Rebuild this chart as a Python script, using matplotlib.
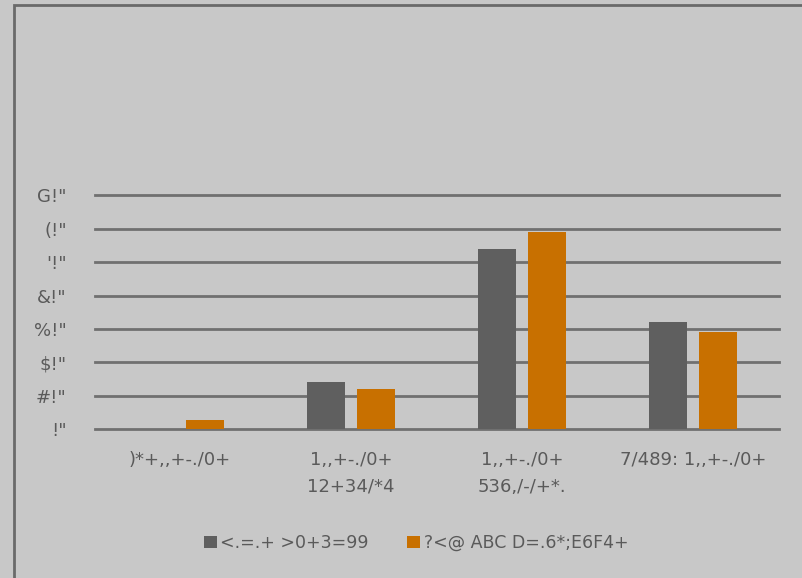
import matplotlib.pyplot as plt
import numpy as np

## Data
categories = [')*+,,+-./0+', '1,,+-./0+\n12+34/*4', '1,,+-./0+\n536,/-/+*.', '7/489: 1,,+-./0+']
series_names = ['<.=.+ >0+3=99', '?<@ ABC D=.6*;E6F4+']
dark_values = [0, 14.1, 54, 32]
orange_values = [2.8, 12, 59.2, 29]
tick_values = [0, 10, 20, 30, 40, 50, 60, 70]
tick_labels = ['!"', '#!"', '$!"', '%!"', '&!"', '\'!"', '(!"', 'G!"']

bg = '#c8c8c8'
text_col = '#5a5a5a'
grid_col = '#707070'
dark_col = '#5f5f5f'
orange_col = '#c87000'

plt.rcParams['font.family'] = ['DejaVu Sans']

fig = plt.figure(figsize=(8.02, 5.78), dpi=100)
fig.patch.set_facecolor(bg)

# outer frame (only top and left edges are visible in the picture)
fig.add_artist(plt.Rectangle((14 / 802, -0.1), 1.2, (578 - 5) / 578 + 0.1, transform=fig.transFigure,
                             fill=False, edgecolor='#6a6a6a', linewidth=2))

ax = fig.add_axes([94.5 / 802, (578 - 429) / 578, 684 / 802, 233.5 / 578])
ax.set_facecolor(bg)

x = np.arange(len(categories))
w = 0.225
gap = 0.065
ax.bar(x - (w + gap) / 2, dark_values, w, color=dark_col, label=series_names[0], zorder=3)
ax.bar(x + (w + gap) / 2, orange_values, w, color=orange_col, label=series_names[1], zorder=3)

ax.set_xlim(-0.5, len(categories) - 0.5)
ax.set_ylim(0, 70)
ax.set_yticks(tick_values)
ax.set_yticklabels(tick_labels)
ax.yaxis.grid(True, color=grid_col, linewidth=2, zorder=0)
for gl in ax.get_ygridlines():
    gl.set_clip_on(False)
ax.set_axisbelow(True)
ax.set_xticks(x)
ax.set_xticklabels(categories, linespacing=1.6)
ax.tick_params(axis='both', length=0, colors=text_col, labelsize=13)
ax.tick_params(axis='y', pad=20)
ax.tick_params(axis='x', pad=16)
for s in ax.spines.values():
    s.set_visible(False)

leg = fig.legend(loc='center', bbox_to_anchor=(416 / 802, (578 - 543) / 578), ncol=2, frameon=False,
                 fontsize=12.5, handlelength=0.75, handleheight=0.75, handletextpad=0.2, columnspacing=2.2)
for t in leg.get_texts():
    t.set_color(text_col)

plt.savefig('out.png', dpi=100, facecolor=fig.get_facecolor())
